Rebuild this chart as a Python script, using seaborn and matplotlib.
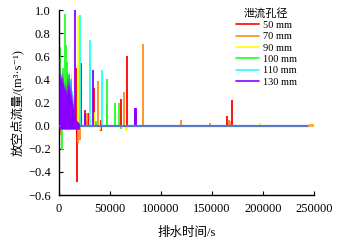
import numpy as np
import pandas as pd
import seaborn as sns
import matplotlib.pyplot as plt

# spike data: (time in s, flow in m3/s)
sizes = ["50 mm", "70 mm", "90 mm", "100 mm", "110 mm", "130 mm"]
colors = ["#ff0000", "#ff8c1a", "#ffff00", "#22ff22", "#22ffff", "#8a00ff"]

red_t = [16800, 17300, 17800, 21500, 25500, 28400, 34300, 40800, 41200, 60400, 67000, 165000, 169200]
red_v = [0.50, -0.49, -0.10, 0.54, 0.14, 0.11, 0.33, 0.05, -0.05, 0.23, 0.60, 0.085, 0.22]

orange_t = [1000, 1500, 18300, 19500, 20600, 27400, 38200, 46700, 64000, 82000, 119600, 148000, 167000, 168000]
orange_v = [-0.08, 0.17, -0.15, 0.10, -0.12, 0.11, 0.39, 0.18, 0.29, 0.71, 0.05, 0.02, 0.05, 0.04]

yellow_t = [4000, 6000, 18600, 30700, 34700, 40000, 65600, 66500, 197000]
yellow_v = [-0.03, -0.04, 0.95, 0.62, 0.12, -0.04, -0.05, -0.04, 0.02]

green_t = [800, 3300, 4200, 5900, 7200, 8000, 10000, 36000, 47300, 54600, 58500, 61000]
green_v = [0.68, -0.21, 0.50, 0.97, 0.70, 0.55, 0.45, 0.04, 0.40, 0.20, 0.20, -0.03]

cyan_t = [11500, 12700, 20600, 30000, 42500]
cyan_v = [0.40, 0.30, 0.96, 0.74, 0.48]

purple_t = [15700, 26000, 33300, 74500, 75000, 75500, 76000]
purple_v = [1.00, 0.10, 0.48, 0.14, 0.155, 0.155, 0.12]

# dense oscillation of the 130 mm series at the start (upper envelope)
purple_env_t = [0, 500, 1000, 1500, 2000, 2500, 3000, 3500, 4000, 4500, 5000, 5500, 6000, 6500,
                7000, 7500, 8000, 8500, 9000, 9500, 10000, 10500, 11000, 11500, 12000, 12500,
                13000, 13500, 14000, 14500, 15000, 16000, 17000, 18000, 19000, 20000]
purple_env_v = [0.58, 0.60, 0.42, 0.46, 0.40, 0.48, 0.42, 0.36, 0.45, 0.32, 0.38, 0.30, 0.40, 0.28,
                0.36, 0.26, 0.48, 0.32, 0.45, 0.30, 0.50, 0.26, 0.42, 0.22, 0.48, 0.18,
                0.30, 0.14, 0.28, 0.10, 0.08, 0.06, 0.05, 0.04, 0.03, 0.02]

base_t = [0, 245000]
base_v = [0.0, 0.0]
tail_t = [245000, 250000]
tail_v = [0.003, 0.003]

spikes = [(red_t, red_v), (orange_t, orange_v), (yellow_t, yellow_v),
          (green_t, green_v), (cyan_t, cyan_v), (purple_t, purple_v)]

sns.set_style("ticks", {"axes.edgecolor": "black", "xtick.color": "black",
                        "ytick.color": "black", "text.color": "black",
                        "axes.labelcolor": "black"})
plt.rcParams["font.family"] = ["Liberation Serif", "Noto Sans CJK SC", "DejaVu Sans"]
plt.rcParams["xtick.direction"] = "in"
plt.rcParams["ytick.direction"] = "in"

fig = plt.figure(figsize=(3.39, 2.46), dpi=100)
ax = fig.add_axes([0.174, 0.207, 0.752, 0.752])

for (t, v), c, lab in zip(spikes, colors, sizes):
    ax.vlines(t, 0, v, color=c, linewidth=1.3, zorder=2)
    ax.plot([], [], color=c, linewidth=1.2, label=lab)

ax.fill_between(purple_env_t, -0.03, purple_env_v, color=colors[5], linewidth=0, zorder=4)

base = pd.DataFrame({"t": base_t, "v": base_v})
sns.lineplot(data=base, x="t", y="v", color="#5a78c8", linewidth=1.6, ax=ax, zorder=3)
tail = pd.DataFrame({"t": tail_t, "v": tail_v})
sns.lineplot(data=tail, x="t", y="v", color="#ffb030", linewidth=2.2, ax=ax, zorder=3)

ax.set_xlim(0, 250000)
ax.set_ylim(-0.6, 1.0)
ax.set_xticks([0, 50000, 100000, 150000, 200000, 250000])
ax.set_yticks(np.arange(-0.6, 1.01, 0.2))
ax.set_yticklabels([f"{y:.1f}".replace("-", "\u2212") for y in np.arange(-0.6, 1.01, 0.2)])
ax.tick_params(labelsize=9, length=3, width=0.8, pad=6, colors="black")
sns.despine(ax=ax)
ax.spines["left"].set_linewidth(1.0)
ax.spines["bottom"].set_linewidth(1.0)

ax.set_xlabel("排水时间/s", fontsize=9, labelpad=8)
ax.set_ylabel("放空点流量/(m³·s⁻¹)", fontsize=9, labelpad=3)

leg = ax.legend(title="泄流孔径", loc="upper left", bbox_to_anchor=(0.672, 1.0),
                bbox_transform=fig.transFigure, frameon=False, fontsize=7.5,
                title_fontsize=8, handlelength=2.2, labelspacing=0.2, handletextpad=0.4,
                borderpad=0.25)

fig.savefig("out.png", dpi=100)
